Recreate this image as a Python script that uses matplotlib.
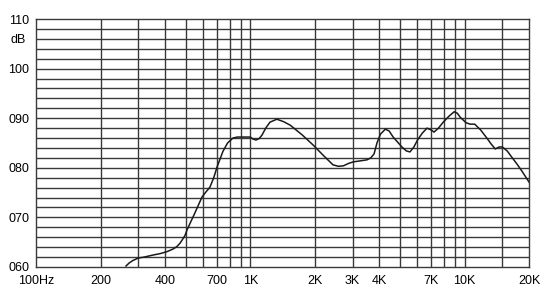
import numpy as np
import matplotlib
matplotlib.use("Agg")
import matplotlib.pyplot as plt

# frequency response
freq = [263, 272, 283, 300, 320, 351, 380, 409, 435, 454, 470, 480, 495, 507, 550,
        595, 620, 648, 675, 700, 745, 783, 830, 870, 923, 1000, 1030, 1063, 1100,
        1134, 1180, 1235, 1330, 1430, 1535, 1750, 1963, 2180, 2430, 2580, 2720,
        2880, 3030, 3260, 3500, 3650, 3780, 3900, 4050, 4270, 4450, 4640, 5100,
        5350, 5560, 5800, 6030, 6350, 6680, 7000, 7200, 7550, 7950, 8450, 8940,
        9250, 9540, 10150, 10600, 11150, 11900, 12700, 13300, 13900, 14500, 15000,
        15800, 16700, 17600, 18600, 20000]
spl = [60.2, 60.8, 61.3, 61.8, 62.0, 62.4, 62.7, 63.1, 63.6, 64.1, 64.8, 65.4, 66.3,
       67.5, 70.8, 74.1, 75.1, 76.1, 78.0, 80.2, 83.3, 85.0, 86.0, 86.2, 86.2, 86.2,
       85.8, 85.6, 85.9, 86.6, 88.0, 89.2, 89.8, 89.3, 88.6, 86.6, 84.6, 82.6, 80.6,
       80.3, 80.4, 80.9, 81.2, 81.4, 81.6, 82.0, 82.8, 85.0, 86.8, 87.8, 87.4, 86.2,
       84.2, 83.4, 83.2, 84.2, 85.6, 87.0, 88.0, 87.6, 87.2, 88.0, 89.2, 90.4, 91.3,
       91.0, 90.2, 89.1, 88.8, 88.8, 87.6, 86.0, 84.8, 83.8, 84.2, 84.2, 83.4, 82.0,
       80.7, 79.2, 77.1]

vgrid = [200, 300, 400, 500, 600, 700, 800, 900, 1000, 2000, 3000, 4000, 5000,
         6000, 7000, 8000, 9000, 10000, 15000]
xticks = [100, 200, 400, 700, 1000, 2000, 3000, 4000, 7000, 10000, 20000]
xlabels = ["100Hz", "200", "400", "700", "1K", "2K", "3K", "4K", "7K", "10K", "20K"]
ylabels = ["060", "070", "080", "090", "100", "110"]

plt.rcParams['font.family'] = ['Liberation Sans', 'DejaVu Sans']

fig = plt.figure(figsize=(5.5, 2.95), dpi=100)
ax = fig.add_axes([0.0655, 0.095, 0.8965, 0.8405])
ax.set_xscale('log')
ax.set_xlim(100, 20000)
ax.set_ylim(60, 110)

gc = '#3a3a3a'
for v in vgrid:
    ax.axvline(v, color=gc, lw=1.0, zorder=1)
for h in np.arange(62, 110, 2):
    ax.axhline(h, color=gc, lw=1.0, zorder=1)

ax.plot(freq, spl, color='#1a1a1a', lw=1.1, zorder=3)

ax.set_xticks(xticks)
ax.set_xticklabels(xlabels, fontsize=9)
ax.xaxis.set_minor_locator(matplotlib.ticker.NullLocator())
ax.set_yticks(np.arange(60, 111, 10))
ax.set_yticklabels(ylabels, fontsize=9)
ax.tick_params(length=0, pad=5)
ax.tick_params(axis='x', pad=6)
ax.text(-0.02, 0.915, "dB", transform=ax.transAxes, ha='right', va='center', fontsize=9)

for s in ax.spines.values():
    s.set_color(gc)
    s.set_linewidth(1.0)

fig.savefig("out.png", dpi=100)
